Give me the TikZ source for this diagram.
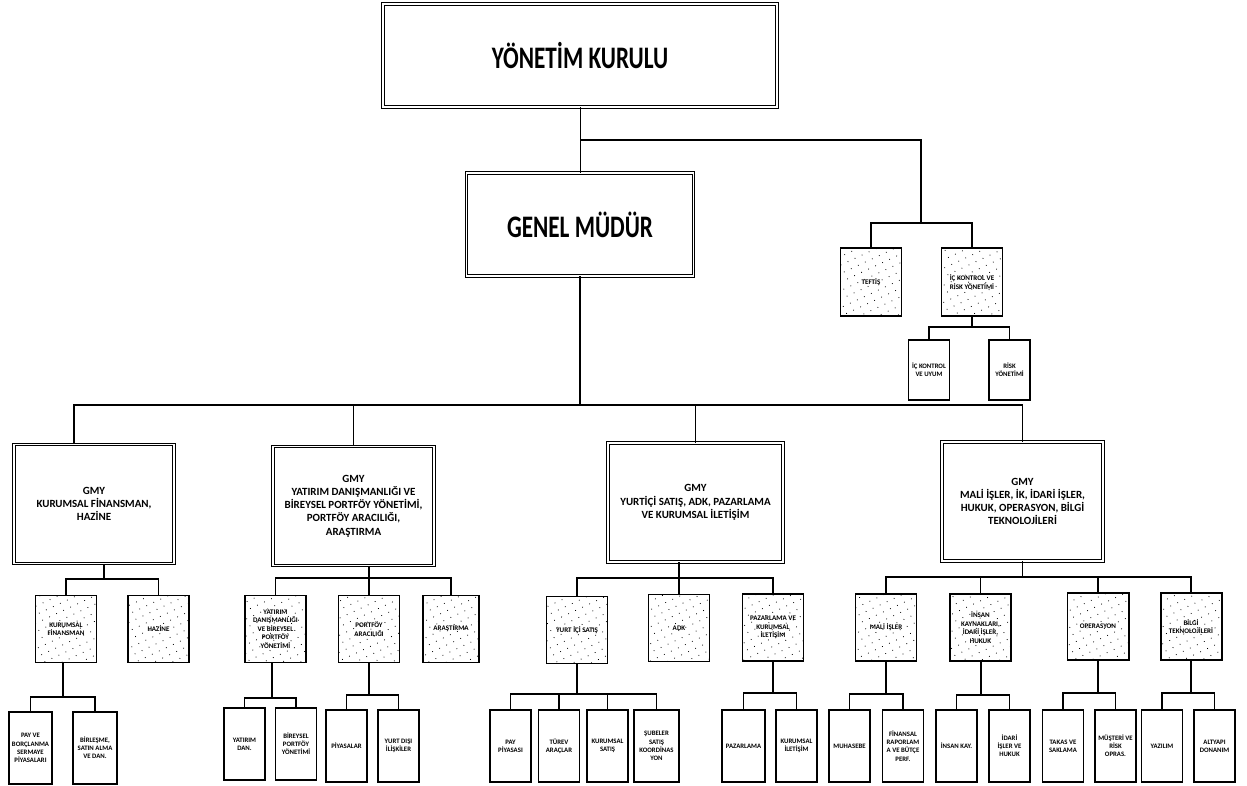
\documentclass[tikz,border=0pt]{standalone}
\usepackage{fontspec}
\setmainfont{Carlito}
\usepackage{graphicx}
\usepackage{tikz}
\usetikzlibrary{patterns.meta}

\begin{document}
\begin{tikzpicture}[x=0.25mm,y=-0.25mm]
\tikzstyle{every node}+=[inner sep=0pt]
\tikzstyle{headbox}=[draw=black, double, double distance=1.2pt, line width=0.6pt, minimum height=25.75mm, font=\bfseries\fontsize{16.5}{19}\selectfont]
\tikzstyle{gmybox}=[draw=black, double, double distance=1.1pt, line width=0.6pt, minimum height=29.75mm, align=center, font=\bfseries\fontsize{7.8}{9.4}\selectfont]
\tikzstyle{unitbox}=[draw=black, line width=1.4pt, pattern={Dots[distance=5.5pt,radius=0.4pt,angle=25]}, minimum width=15.25mm, minimum height=16.75mm, align=center, font=\bfseries\fontsize{5}{6}\selectfont]
\tikzstyle{leafbox}=[draw=black, line width=1.2pt, minimum width=10.25mm, minimum height=18mm, align=center, font=\bfseries\fontsize{4.8}{5.8}\selectfont]
\tikzstyle{link}=[draw=black, line width=1pt]
\useasboundingbox (0,0) rectangle (1247,785);
\node [headbox, minimum width=98.5mm] (yk) at (580,55.5) {\scalebox{1}[1.35]{YÖNETİM KURULU}};
\node [headbox, minimum width=56.75mm] (gm) at (580,224.5) {\scalebox{1}[1.35]{GENEL MÜDÜR}};
\node [unitbox, minimum height=17mm] (teftis) at (871,282) {TEFTİŞ};
\node [unitbox, minimum height=17mm] (ickr) at (972,282) {İÇ KONTROL VE\\RİSK YÖNETİMİ};
\node [leafbox, minimum height=15mm] (icku) at (929,370) {İÇ KONTROL\\VE UYUM};
\node [leafbox, minimum height=15mm] (risk) at (1009.5,370) {RİSK\\YÖNETİMİ};
\coordinate (jtop) at (580,140);
\coordinate (jaudit) at (921,223);
\coordinate (jrisk) at (972,327);
\draw [link, line width=0.6pt] (yk) -- (gm);
\draw [link] (jtop) -| (jaudit);
\draw [link] (teftis.north) |- (jaudit) -| (ickr.north);
\draw [link] (ickr.south) -- (jrisk);
\draw [link] (icku.north) |- (jrisk) -| (risk.north);
\node [gmybox, minimum width=40mm] (gmya) at (94,504) {GMY\\KURUMSAL FİNANSMAN,\\HAZİNE};
\node [gmybox, minimum width=40.25mm] (gmyb) at (353.5,506) {GMY\\YATIRIM DANIŞMANLIĞI VE\\BİREYSEL PORTFÖY YÖNETİMİ,\\PORTFÖY ARACILIĞI,\\ARAŞTIRMA};
\node [gmybox, minimum width=43.75mm] (gmyc) at (695.5,502.5) {GMY\\YURTİÇİ SATIŞ, ADK, PAZARLAMA\\VE KURUMSAL İLETİŞİM};
\node [gmybox, minimum width=40.25mm] (gmyd) at (1022.5,501.5) {GMY\\MALİ İŞLER, İK, İDARİ İŞLER,\\HUKUK, OPERASYON, BİLGİ\\TEKNOLOJİLERİ};
\coordinate (jmain) at (580,405);
\draw [link] (gm.south) -- (jmain);
\draw [link] ([xshift=-5mm]gmya.north) |- (jmain) -| (gmyd.north);
\draw [link] (gmyb.north) -- (gmyb.north |- jmain);
\draw [link] (gmyc.north) -- (gmyc.north |- jmain);
\node [unitbox] (kf) at (66,629) {KURUMSAL\\FİNANSMAN};
\node [unitbox] (hz) at (158.5,629) {HAZİNE};
\node [unitbox] (yd) at (275.5,629) {YATIRIM\\DANIŞMANLIĞI\\VE BİREYSEL\\PORTFÖY\\YÖNETİMİ};
\node [unitbox] (pa) at (369,629) {PORTFÖY\\ARACILIĞI};
\node [unitbox, minimum width=14mm] (ar) at (451,629) {ARAŞTIRMA};
\node [unitbox] (ys) at (577,630) {YURT İÇİ SATIŞ};
\node [unitbox] (adk) at (679,628) {ADK};
\node [unitbox] (pk) at (773,627.5) {PAZARLAMA VE\\KURUMSAL\\İLETİŞİM};
\node [unitbox] (mi) at (886,627.5) {MALİ İŞLER};
\node [unitbox] (ik) at (980.5,627.5) {İNSAN\\KAYNAKLARI,\\İDARİ İŞLER,\\HUKUK};
\node [unitbox] (op) at (1098,626.5) {OPERASYON};
\node [unitbox] (bt) at (1191,626.5) {BİLGİ\\TEKNOLOJİLERİ};
\coordinate (ja) at (104,579);
\coordinate (jb) at (369,578);
\coordinate (jc) at (679,578);
\coordinate (jd) at (1022.5,577);
\draw [link] (gmya.south -| ja) -- (ja);
\draw [link] (kf.north) |- (ja) -| (hz.north);
\draw [link] (gmyb.south -| pa) -- (pa.north);
\draw [link] (yd.north) |- (jb) -| (ar.north);
\draw [link] (gmyc.south -| adk) -- (adk.north);
\draw [link] (ys.north) |- (jc) -| (pk.north);
\draw [link] (gmyd.south) -- (jd);
\draw [link] (mi.north) |- (jd) -| (bt.north);
\draw [link] (ik.north) -- (ik.north |- jd);
\draw [link] (op.north) -- (op.north |- jd);
\node [leafbox, minimum width=10.75mm] (pb) at (30.5,748) {PAY VE\\BORÇLANMA\\SERMAYE\\PİYASALARI};
\node [leafbox, minimum width=11mm] (bs) at (95,748) {BİRLEŞME,\\SATIN ALMA\\VE DAN.};
\node [leafbox] (ydn) at (244.5,744) {YATIRIM\\DAN.};
\node [leafbox] (bpy) at (296,744) {BİREYSEL\\PORTFÖY\\YÖNETİMİ};
\node [leafbox] (py) at (346.5,746) {PİYASALAR};
\node [leafbox] (yi) at (398.5,746) {YURT DIŞI\\İLİŞKİLER};
\node [leafbox] (pp) at (510.5,746) {PAY\\PİYASASI};
\node [leafbox] (ta) at (559,746) {TÜREV\\ARAÇLAR};
\node [leafbox] (ks) at (607.5,746) {KURUMSAL\\SATIŞ};
\node [leafbox, minimum width=11.25mm] (sk) at (656.5,746) {ŞUBELER\\SATIŞ\\KOORDİNAS\\YON};
\node [leafbox, minimum width=10.75mm] (pz) at (743.5,746) {PAZARLAMA};
\node [leafbox] (ki) at (796.5,746) {KURUMSAL\\İLETİŞİM};
\node [leafbox] (mh) at (849.5,746) {MUHASEBE};
\node [leafbox] (fr) at (903,746) {FİNANSAL\\RAPORLAM\\A VE BÜTÇE\\PERF.};
\node [leafbox] (ika) at (956.5,746) {İNSAN KAY.};
\node [leafbox] (ih) at (1009.5,746) {İDARİ\\İŞLER VE\\HUKUK};
\node [leafbox] (tk) at (1063,746) {TAKAS VE\\SAKLAMA};
\node [leafbox] (mr) at (1115.5,746) {MÜŞTERİ VE\\RİSK\\OPRAS.};
\node [leafbox] (yz) at (1162,746) {YAZILIM};
\node [leafbox] (ad) at (1214.5,746) {ALTYAPI\\DONANIM};
\coordinate (jkf) at (63,697);
\coordinate (jyd) at (272,698);
\coordinate (jpa) at (369,695);
\coordinate (jys) at (577,694);
\coordinate (jpk) at (773,693);
\coordinate (jmi) at (886,694);
\coordinate (jik) at (981,695);
\coordinate (jop) at (1098,693);
\coordinate (jbt) at (1191,693);
\draw [link] (kf.south -| jkf) -- (jkf);
\draw [link] (pb.north) |- (jkf) -| (bs.north);
\draw [link] (yd.south -| jyd) -- (jyd);
\draw [link] (ydn.north) |- (jyd) -| (bpy.north);
\draw [link] (pa.south) -- (jpa);
\draw [link] (py.north) |- (jpa) -| (yi.north);
\draw [link] (ys.south) -- (jys);
\draw [link] (pp.north) |- (jys) -| (sk.north);
\draw [link] (ta.north) -- (ta.north |- jys);
\draw [link] (ks.north) -- (ks.north |- jys);
\draw [link] (pk.south) -- (jpk);
\draw [link] (pz.north) |- (jpk) -| (ki.north);
\draw [link] (mi.south) -- (jmi);
\draw [link] (mh.north) |- (jmi) -| (fr.north);
\draw [link] (ik.south -| jik) -- (jik);
\draw [link] (ika.north) |- (jik) -| (ih.north);
\draw [link] (op.south) -- (jop);
\draw [link] (tk.north) |- (jop) -| (mr.north);
\draw [link] (bt.south) -- (jbt);
\draw [link] (yz.north) |- (jbt) -| (ad.north);
\end{tikzpicture}
\end{document}
